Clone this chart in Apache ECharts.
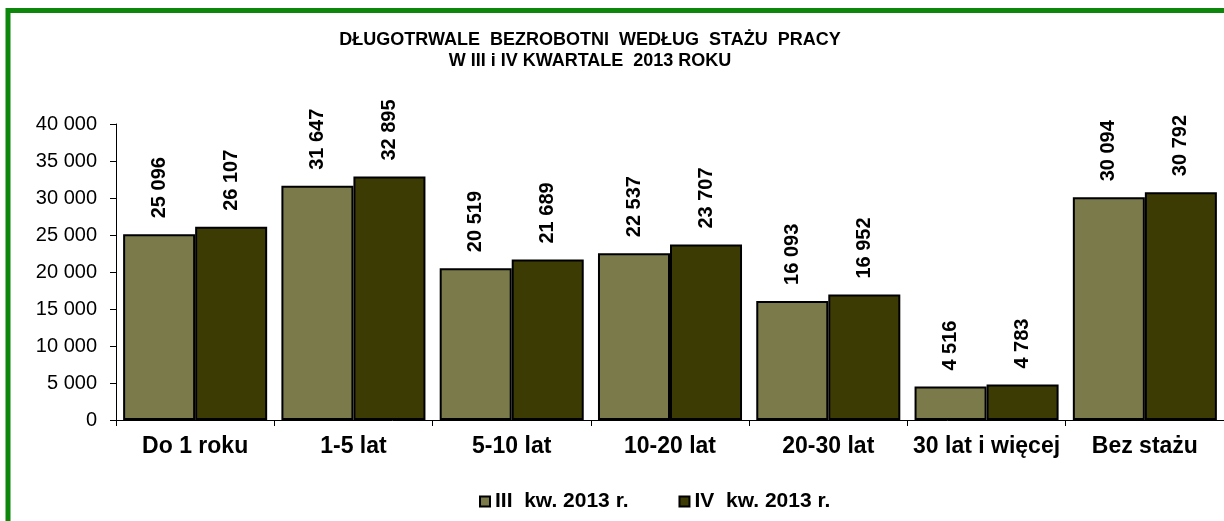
<!DOCTYPE html>
<html>
<head>
<meta charset="utf-8">
<script src="https://cdn.jsdelivr.net/npm/echarts@6/dist/echarts.min.js"></script>
<style>
html, body { margin: 0; padding: 0; background: #fff; }
#main { width: 1224px; height: 521px; }
</style>
</head>
<body>
<div id="main"></div>
<script>
var categories = ['Do 1 roku', '1-5 lat', '5-10 lat', '10-20 lat', '20-30 lat', '30 lat i więcej', 'Bez stażu']
var seriesNames = ['III  kw. 2013 r.', 'IV  kw. 2013 r.']
var kw3 = [25096, 31647, 20519, 22537, 16093, 4516, 30094]
var kw4 = [26107, 32895, 21689, 23707, 16952, 4783, 30792]
var titleText = 'DŁUGOTRWALE  BEZROBOTNI  WEDŁUG  STAŻU  PRACY\nW III i IV KWARTALE  2013 ROKU'

function fmt(v) {
    return String(v).replace(/\B(?=(\d{3})+(?!\d))/g, ' ')
}

var font = '"Liberation Sans", Arial, sans-serif'

var myChart = echarts.init(document.getElementById('main'))

var barLabel = {
    show: true,
    position: 'top',
    rotate: 90,
    align: 'left',
    verticalAlign: 'middle',
    distance: 16,
    color: '#000',
    fontFamily: font,
    fontWeight: 'bold',
    fontSize: 20,
    formatter: function (p) { return fmt(p.value) }
}

myChart.setOption({
    animation: false,
    title: {
        text: titleText,
        left: 585,
        top: 25,
        textAlign: 'center',
        textStyle: {
            fontFamily: font,
            fontWeight: 'bold',
            fontSize: 18,
            lineHeight: 21,
            color: '#000'
        }
    },
    // green frame, cut off on the right and bottom like in the original
    graphic: [{
        type: 'rect',
        shape: {x: 8, y: 10.5, width: 1400, height: 700},
        style: {fill: 'none', stroke: '#0c870c', lineWidth: 5},
        silent: true
    }],
    legend: {
        left: 474,
        top: 486,
        itemWidth: 10,
        itemHeight: 10,
        itemGap: 50,
        icon: 'rect',
        itemStyle: {borderColor: '#000', borderWidth: 2},
        textStyle: {
            fontFamily: font,
            fontWeight: 'bold',
            fontSize: 21,
            color: '#000'
        },
        data: seriesNames
    },
    grid: {
        left: 116,
        top: 124,
        width: 1118,
        height: 296,
        containLabel: false
    },
    xAxis: {
        type: 'category',
        data: categories,
        axisLine: {lineStyle: {color: '#000', width: 1}},
        axisTick: {show: true, length: 6, lineStyle: {color: '#000'}},
        axisLabel: {
            margin: 15,
            interval: 0,
            fontFamily: font,
            fontWeight: 'bold',
            fontSize: 23,
            color: '#000'
        }
    },
    yAxis: {
        type: 'value',
        min: 0,
        max: 40000,
        interval: 5000,
        splitLine: {show: false},
        axisLine: {show: true, lineStyle: {color: '#000', width: 1}},
        axisTick: {show: true, length: 6, lineStyle: {color: '#000'}},
        axisLabel: {
            margin: 19,
            fontFamily: font,
            fontSize: 20,
            color: '#000',
            formatter: fmt
        }
    },
    series: [{
        name: seriesNames[0],
        type: 'bar',
        data: kw3,
        barGap: '0%',
        barCategoryGap: '9%',
        itemStyle: {color: '#7a7a4a', borderColor: '#000', borderWidth: 2},
        label: barLabel
    }, {
        name: seriesNames[1],
        type: 'bar',
        data: kw4,
        barGap: '0%',
        barCategoryGap: '9%',
        itemStyle: {color: '#3d3b04', borderColor: '#000', borderWidth: 2},
        label: barLabel
    }]
})
</script>
</body>
</html>
